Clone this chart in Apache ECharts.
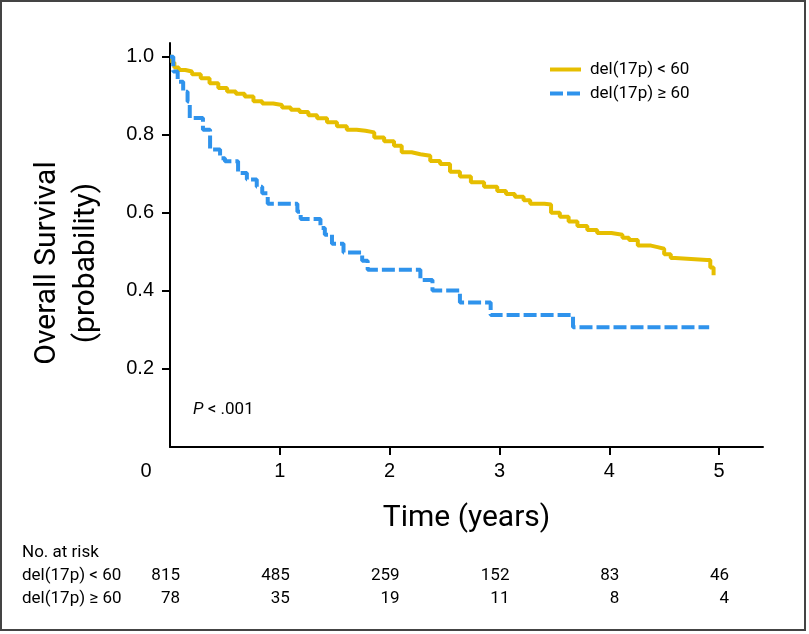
<!DOCTYPE html>
<html>
<head>
<meta charset="utf-8">
<script src="https://cdn.jsdelivr.net/npm/echarts@6/dist/echarts.min.js"></script>
<style>
html,body{margin:0;padding:0;background:#fff;}
#c{width:809px;height:634px;}
</style>
</head>
<body>
<div id="c"></div>
<script>
// ---- data ----
const seriesNames = ['del(17p) < 60', 'del(17p) \u2265 60'];
const xTickLabels = [0, 1, 2, 3, 4, 5];
const yTickLabels = [0.2, 0.4, 0.6, 0.8, 1.0];

const lowTime = [0, 0.02, 0.04, 0.08, 0.14, 0.2, 0.28, 0.36, 0.44, 0.52, 0.6, 0.68, 0.76, 0.84, 0.94, 1.02, 1.1, 1.18, 1.26, 1.34, 1.43, 1.52, 1.61, 1.7, 1.78, 1.86, 1.95, 2.04, 2.11, 2.2, 2.28, 2.37, 2.46, 2.55, 2.64, 2.74, 2.86, 2.98, 3.06, 3.14, 3.22, 3.28, 3.41, 3.47, 3.55, 3.63, 3.71, 3.8, 3.89, 4.02, 4.12, 4.18, 4.26, 4.38, 4.44, 4.5, 4.56, 4.6, 4.89, 4.92, 4.95];
const lowSurv = [1.0, 0.985, 0.972, 0.966, 0.962, 0.955, 0.945, 0.932, 0.92, 0.911, 0.905, 0.898, 0.886, 0.88, 0.876, 0.87, 0.864, 0.858, 0.85, 0.842, 0.832, 0.822, 0.813, 0.81, 0.806, 0.793, 0.783, 0.772, 0.755, 0.75, 0.746, 0.733, 0.725, 0.705, 0.693, 0.678, 0.667, 0.656, 0.648, 0.641, 0.632, 0.623, 0.621, 0.6, 0.59, 0.578, 0.566, 0.556, 0.548, 0.544, 0.536, 0.53, 0.516, 0.512, 0.508, 0.494, 0.484, 0.479, 0.479, 0.46, 0.44];

const highTime = [0, 0.03, 0.07, 0.12, 0.16, 0.18, 0.3, 0.365, 0.456, 0.5, 0.62, 0.7, 0.79, 0.84, 0.89, 1.16, 1.19, 1.37, 1.41, 1.475, 1.58, 1.75, 1.8, 2.28, 2.39, 2.64, 2.92, 3.67, 4.91];
const highSurv = [1.0, 0.962, 0.936, 0.91, 0.885, 0.843, 0.813, 0.762, 0.74, 0.732, 0.702, 0.685, 0.667, 0.65, 0.623, 0.603, 0.584, 0.561, 0.544, 0.521, 0.498, 0.477, 0.454, 0.428, 0.401, 0.37, 0.338, 0.307, 0.307];

const riskTimes = [0, 1, 2, 3, 4, 5];
const riskLow = [815, 485, 259, 152, 83, 46];
const riskHigh = [78, 35, 19, 11, 8, 4];

const pText = 'P';
const pRest = ' < .001';

// ---- chart ----
const YELLOW = '#E6BE00';
const BLUE = '#2F93EC';
const CONDENSED = 'Roboto, "Liberation Sans", Arial, sans-serif';
const REG = '"Liberation Sans", Arial, Helvetica, sans-serif';

function pairs(t, s) { return t.map((v, i) => [v, s[i]]); }

const chart = echarts.init(document.getElementById('c'), null, {renderer: 'canvas'});

const option = {
  animation: false,
  backgroundColor: '#fff',
  grid: {left: 170, top: 43, right: 46, bottom: 187},
  legend: {
    orient: 'vertical',
    left: 543,
    top: 56,
    itemWidth: 31,
    itemHeight: 14,
    itemGap: 7,
    data: seriesNames,
    itemStyle: {opacity: 0},
    lineStyle: {width: 4},
    textStyle: {fontSize: 17, fontFamily: CONDENSED, color: '#000', padding: [0, 0, 0, 4]}
  },
  xAxis: {
    type: 'value',
    min: 0,
    max: 5.4,
    interval: 1,
    splitLine: {show: false},
    axisLine: {lineStyle: {color: '#000', width: 2}},
    axisTick: {customValues: xTickLabels.filter(v => v !== 0), length: 8, lineStyle: {color: '#000', width: 2}},
    axisLabel: {
      customValues: xTickLabels,
      margin: 14,
      fontSize: 20,
      fontFamily: REG,
      color: '#000',
      formatter: v => v === 0 ? '{z|0}' : String(v),
      rich: {z: {fontSize: 20, fontFamily: REG, color: '#000', padding: [0, 48, 0, 0]}}
    },
    name: 'Time (years)',
    nameLocation: 'middle',
    nameGap: 56,
    nameTextStyle: {fontSize: 30, fontFamily: CONDENSED, color: '#000'}
  },
  yAxis: {
    type: 'value',
    min: 0,
    max: 1.035,
    interval: 0.2,
    splitLine: {show: false},
    axisLine: {lineStyle: {color: '#000', width: 2}},
    axisTick: {customValues: yTickLabels, length: 8, lineStyle: {color: '#000', width: 2}},
    axisLabel: {
      customValues: yTickLabels,
      margin: 16,
      fontSize: 20,
      fontFamily: REG,
      color: '#000',
      formatter: v => v.toFixed(1)
    },
    name: 'Overall Survival\n(probability)',
    nameLocation: 'middle',
    nameRotate: 90,
    nameGap: 64,
    nameTextStyle: {fontSize: 30, lineHeight: 39, fontFamily: CONDENSED, color: '#000', padding: [0, 36, 0, 0]}
  },
  series: [
    {
      name: seriesNames[0],
      type: 'line',
      step: 'end',
      symbol: 'none',
      data: pairs(lowTime, lowSurv),
      lineStyle: {color: YELLOW, width: 4},
      itemStyle: {color: YELLOW}
    },
    {
      name: seriesNames[1],
      type: 'line',
      step: 'end',
      symbol: 'none',
      data: pairs(highTime, highSurv),
      lineStyle: {color: BLUE, width: 4, type: [13, 4]},
      itemStyle: {color: BLUE}
    }
  ]
};
chart.setOption(option);

// annotations and risk table, positioned through the axes
const px = (t, s) => chart.convertToPixel({gridIndex: 0}, [t, s]);
const graphics = [];
graphics.push({
  type: 'rect', silent: true,
  shape: {x: 1, y: 1, width: 804, height: 629},
  style: {fill: 'none', stroke: '#444', lineWidth: 2}
});
const pPos = px(0.21, 0.095);
graphics.push({
  type: 'text', x: pPos[0], y: pPos[1],
  style: {
    text: '{i|' + pText + '}{n|' + pRest + '}',
    verticalAlign: 'middle',
    rich: {
      i: {fontSize: 17, fontStyle: 'italic', fontFamily: CONDENSED, fill: '#000'},
      n: {fontSize: 17, fontFamily: CONDENSED, fill: '#000'}
    }
  }
});
const rowY = [553, 576, 599];
graphics.push({type: 'text', x: 22, y: rowY[0], style: {text: 'No. at risk', fontSize: 17, fontFamily: CONDENSED, fill: '#000', verticalAlign: 'middle'}});
graphics.push({type: 'text', x: 22, y: rowY[1], style: {text: seriesNames[0], fontSize: 17, fontFamily: CONDENSED, fill: '#000', verticalAlign: 'middle'}});
graphics.push({type: 'text', x: 22, y: rowY[2], style: {text: seriesNames[1], fontSize: 17, fontFamily: CONDENSED, fill: '#000', verticalAlign: 'middle'}});
riskTimes.forEach((t, i) => {
  const x = px(t, 0)[0] + 10;
  graphics.push({type: 'text', x: x, y: rowY[1], style: {text: String(riskLow[i]), fontSize: 17, fontFamily: CONDENSED, fill: '#000', align: 'right', verticalAlign: 'middle'}});
  graphics.push({type: 'text', x: x, y: rowY[2], style: {text: String(riskHigh[i]), fontSize: 17, fontFamily: CONDENSED, fill: '#000', align: 'right', verticalAlign: 'middle'}});
});
chart.setOption({graphic: graphics});
</script>
</body>
</html>
